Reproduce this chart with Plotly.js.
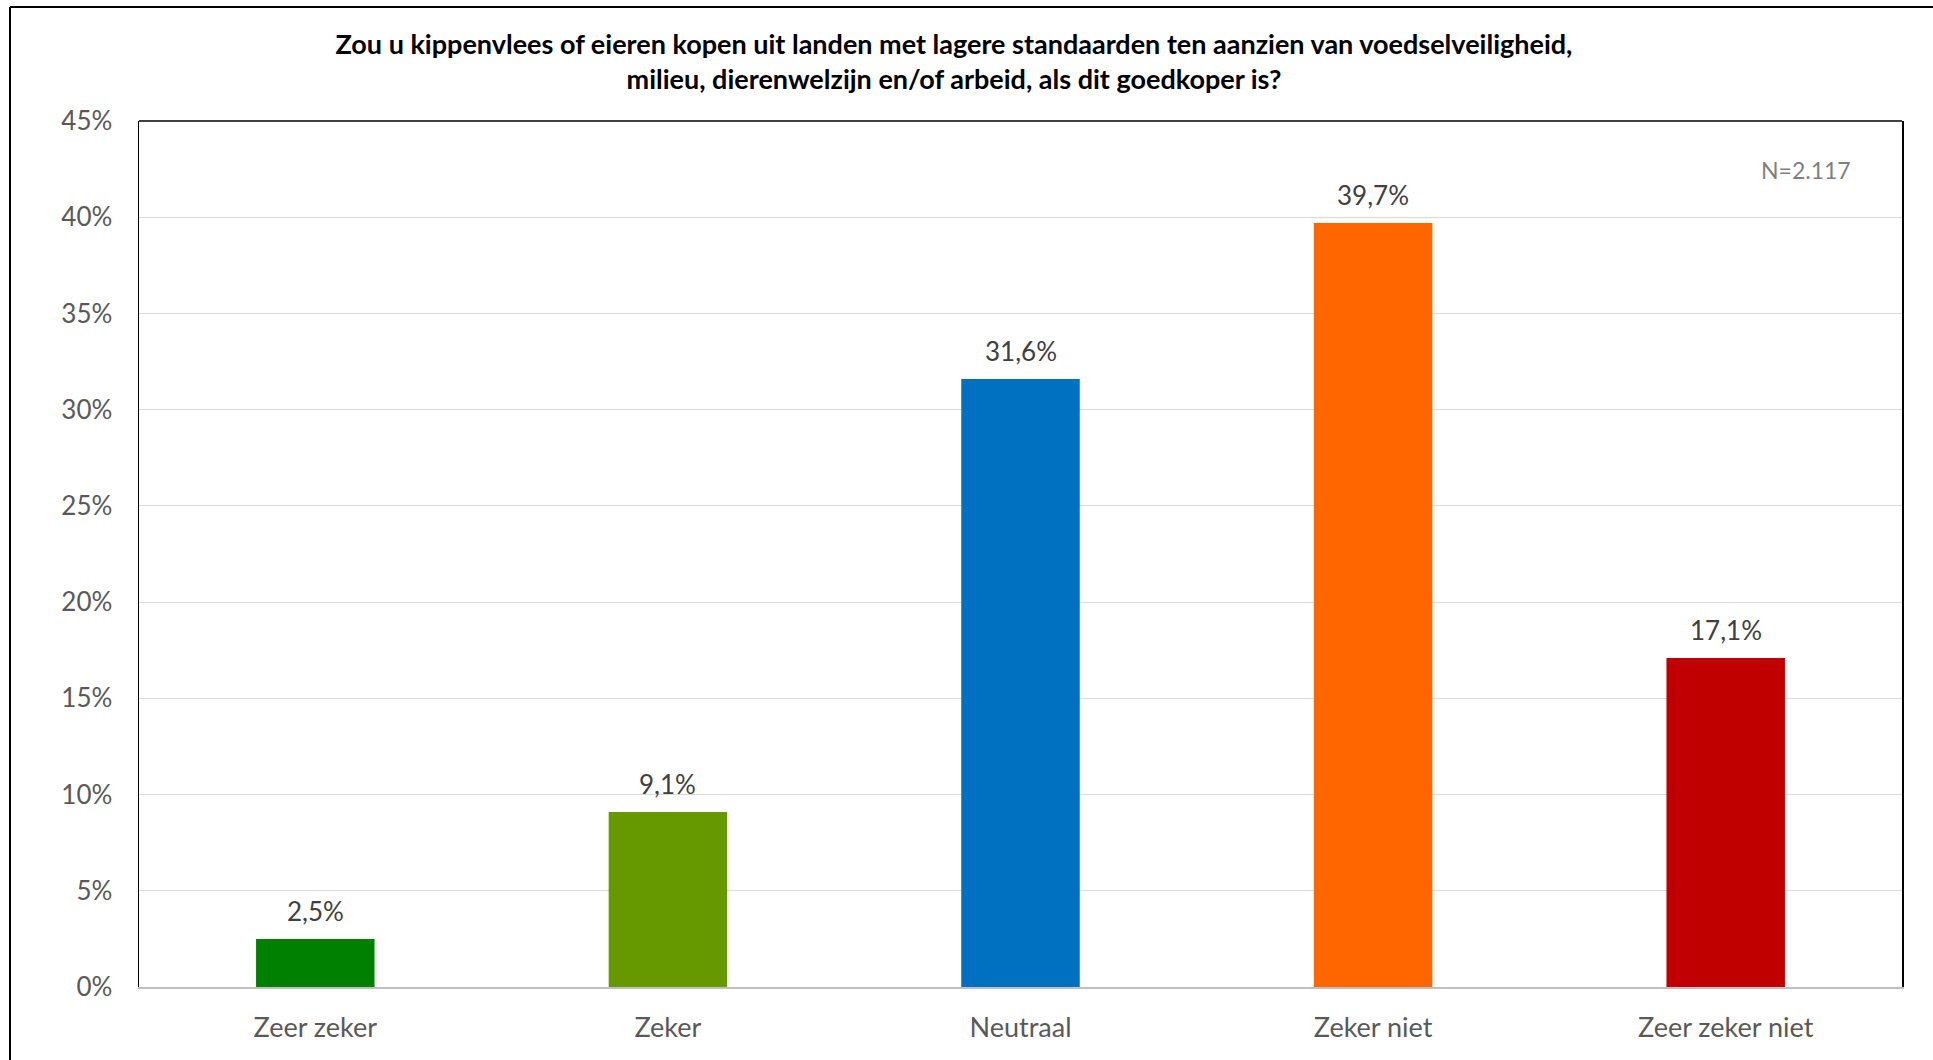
<!DOCTYPE html>
<html>
<head>
<meta charset="utf-8">
<script src="https://cdn.plot.ly/plotly-3.0.1.min.js"></script>
<style>
html,body{margin:0;padding:0;background:#fff;}
#chart{width:1933px;height:1060px;}
</style>
</head>
<body>
<div id="chart"></div>
<script>
const categories = ["Zeer zeker", "Zeker", "Neutraal", "Zeker niet", "Zeer zeker niet"];
const values = [0.025, 0.091, 0.316, 0.397, 0.171];
const valueLabels = ["2,5%", "9,1%", "31,6%", "39,7%", "17,1%"];
const barColors = ["#008000", "#669900", "#0070C0", "#FF6600", "#C00000"];
const tickValues = [0, 0.05, 0.10, 0.15, 0.20, 0.25, 0.30, 0.35, 0.40, 0.45];
const tickLabels = ["0%", "5%", "10%", "15%", "20%", "25%", "30%", "35%", "40%", "45%"];
const titleText = "Zou u kippenvlees of eieren kopen uit landen met lagere standaarden ten aanzien van voedselveiligheid,<br>milieu, dierenwelzijn en/of arbeid, als dit goedkoper is?";
const noteText = "N=2.117";

const FONT = "Lato, 'Open Sans', sans-serif";

const trace = {
  type: "bar",
  x: categories,
  y: values,
  marker: {color: barColors},
  hoverinfo: "skip"
};

const L = 139, R = 1902, T = 121, B = 987;
const pw = R - L, ph = B - T;
const px = v => (v - L) / pw;
const py = v => (B - v) / ph;

const labelAnnotations = categories.map((c, i) => ({
  x: c, y: values[i], xref: "x", yref: "y",
  text: valueLabels[i], showarrow: false,
  xanchor: "center", yanchor: "bottom", yshift: 10,
  font: {family: FONT, size: 26, color: "#404040"}
}));

const layout = {
  width: 1933, height: 1060,
  margin: {l: L, r: 1933 - R, t: T, b: 1060 - B},
  paper_bgcolor: "#ffffff",
  plot_bgcolor: "#ffffff",
  bargap: 0.664,
  showlegend: false,
  title: {
    text: titleText,
    font: {family: FONT, size: 27, color: "#000000", weight: "bold"},
    x: px(954), xref: "paper", xanchor: "center",
    y: 1 - 53.5/1060, yanchor: "middle", yref: "container"
  },
  xaxis: {
    type: "category",
    showline: true, linecolor: "#bfbfbf", linewidth: 2,
    ticks: "", showgrid: false,
    tickfont: {family: FONT, size: 27, color: "#595959"},
    ticklabelstandoff: 16,
    fixedrange: true
  },
  yaxis: {
    range: [0, 0.45],
    tickvals: tickValues, ticktext: tickLabels,
    showgrid: true, gridcolor: "#d9d9d9", gridwidth: 1,
    showline: true, linecolor: "#000000", linewidth: 1.5, mirror: true,
    zeroline: false, ticks: "",
    tickfont: {family: FONT, size: 26, color: "#595959"},
    ticklabelstandoff: 20,
    fixedrange: true
  },
  shapes: [
    {type: "line", xref: "paper", yref: "paper", x0: 0, x1: 1, y0: 1, y1: 1,
     line: {color: "#000000", width: 1.5}},
    {type: "line", xref: "paper", yref: "paper", x0: px(10), x1: px(1933), y0: py(7), y1: py(7),
     line: {color: "#000000", width: 2}},
    {type: "line", xref: "paper", yref: "paper", x0: px(10), x1: px(10), y0: py(7), y1: py(1060),
     line: {color: "#000000", width: 2}}
  ],
  annotations: labelAnnotations.concat([
    {text: noteText, xref: "paper", yref: "paper", x: px(1853), y: py(170),
     xanchor: "right", yanchor: "middle", showarrow: false,
     font: {family: FONT, size: 23, color: "#7f7f7f"}}
  ])
};

Plotly.newPlot("chart", [trace], layout, {displayModeBar: false, staticPlot: true});
</script>
</body>
</html>
